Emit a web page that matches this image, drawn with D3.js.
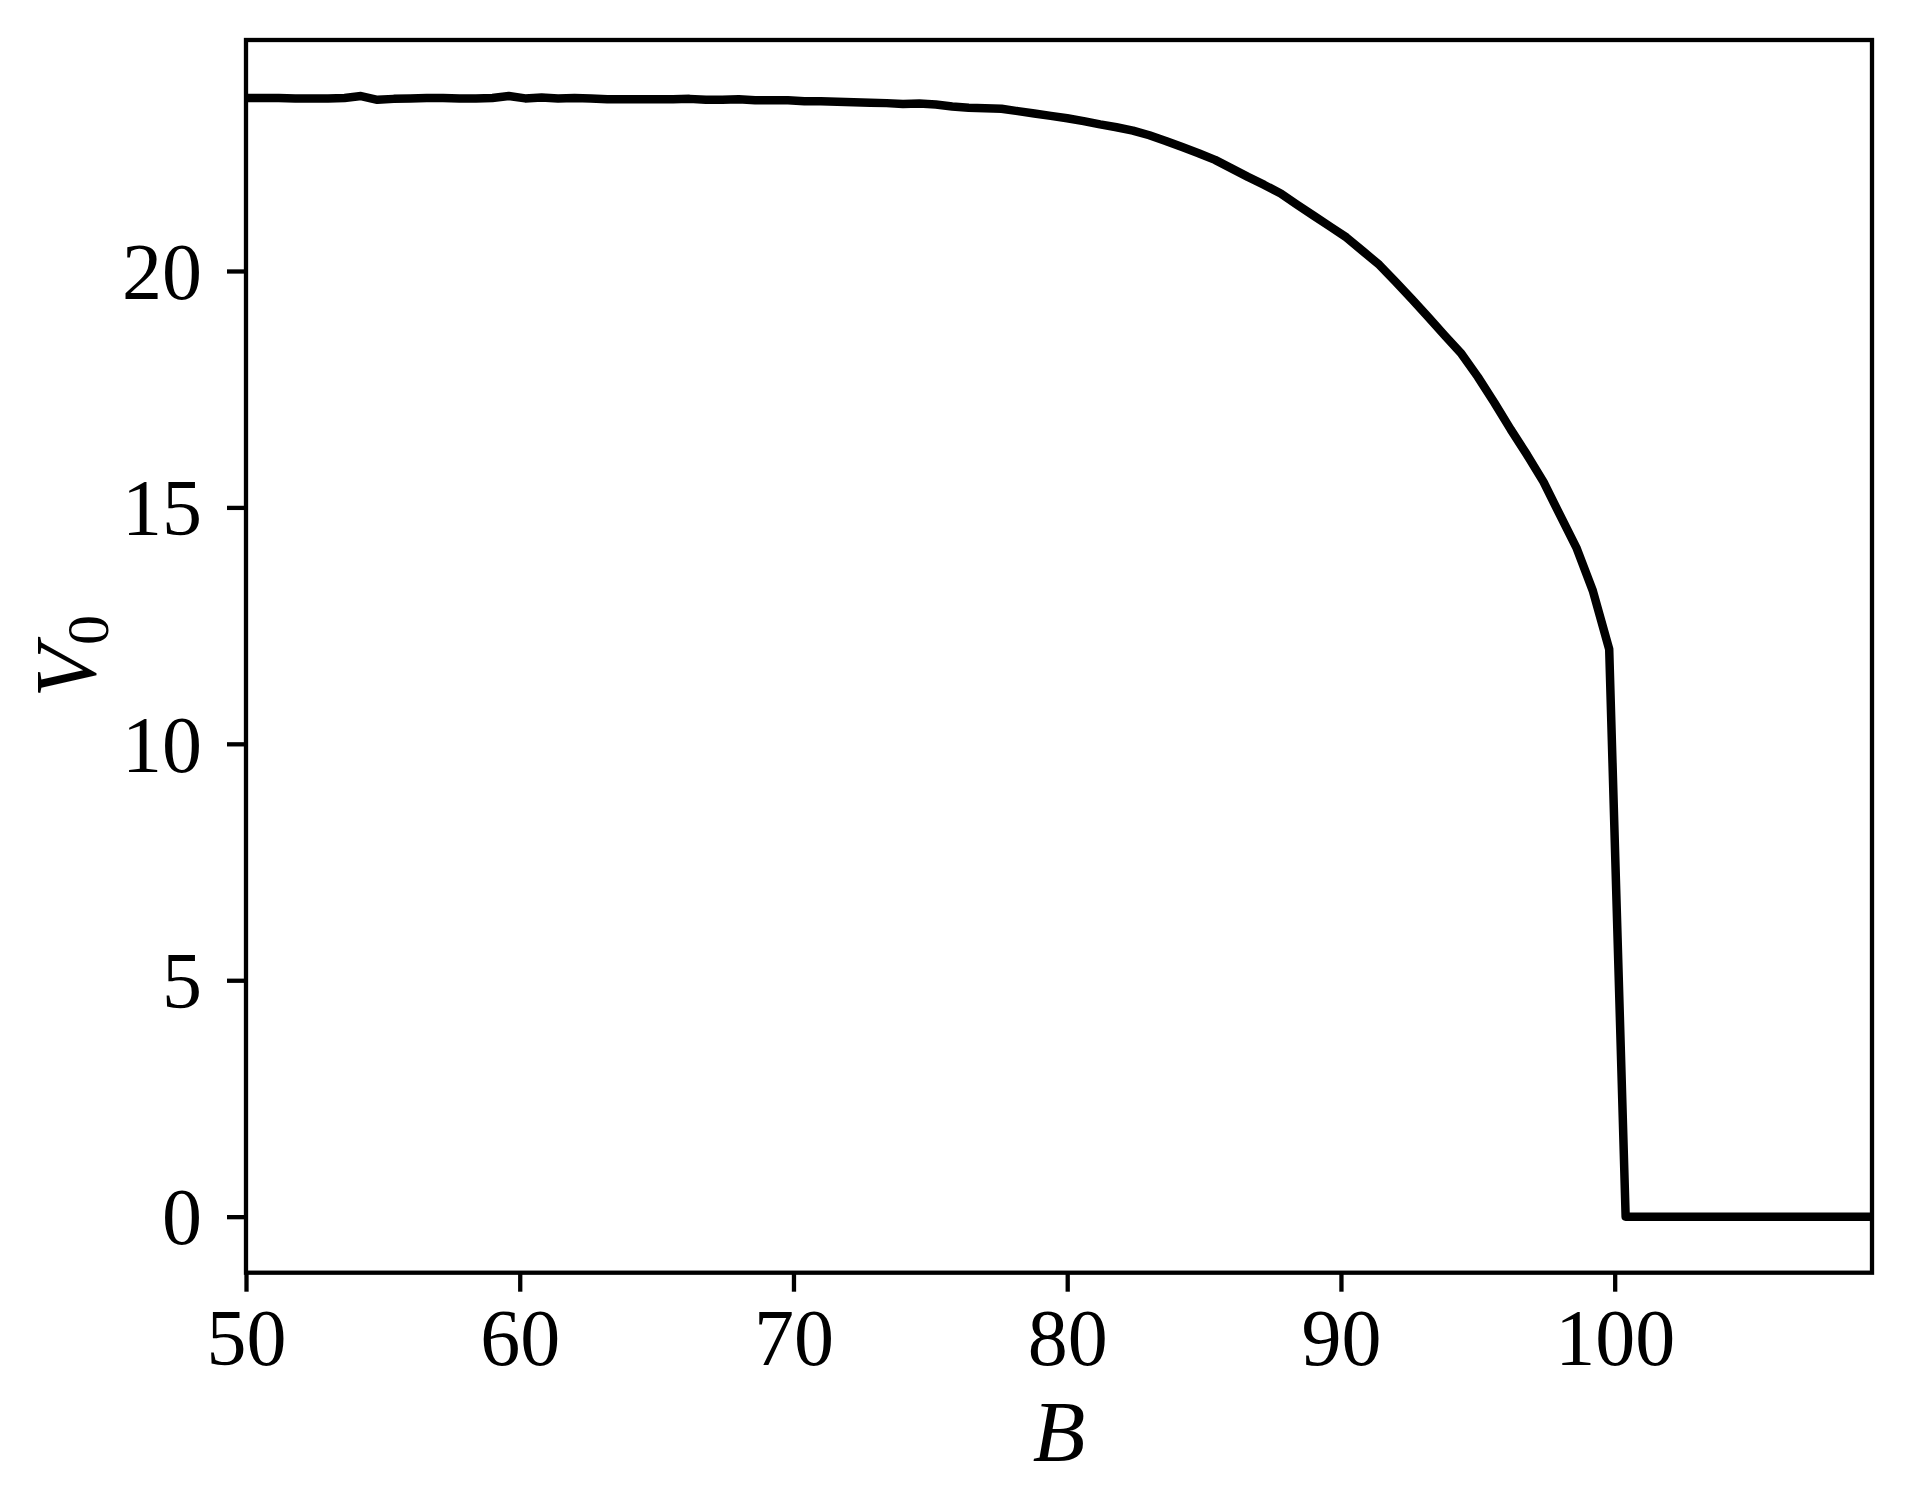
<!DOCTYPE html>
<style>
body { margin: 0; background: #fff; }
.tick text { font-family: "Liberation Serif", "DejaVu Serif", serif; font-size: 80px; fill: #000; }
.axis .domain { display: none; }
.label { font-family: "Liberation Serif", "DejaVu Serif", serif; font-style: italic; fill: #000; }
</style>
<svg width="1911" height="1512"></svg>
<script src="https://d3js.org/d3.v7.min.js"></script>
<script>
var bValues = [50, 50.6, 51.2, 51.8, 52.4, 53, 53.6, 54.2, 54.8, 55.4,
  56, 56.6, 57.2, 57.8, 58.4, 59, 59.6, 60.2, 60.8, 61.4,
  62, 62.6, 63.2, 63.8, 64.4, 65, 65.6, 66.2, 66.8, 67.4,
  68, 68.6, 69.2, 69.8, 70.4, 71, 71.6, 72.2, 72.8, 73.4,
  74, 74.6, 75.2, 75.8, 76.4, 77, 77.6, 78.2, 78.8, 79.4,
  80, 80.6, 81.2, 81.8, 82.4, 83, 83.6, 84.2, 84.8, 85.4,
  86, 86.6, 87.2, 87.8, 88.4, 89, 89.6, 90.2, 90.8, 91.4,
  92, 92.6, 93.2, 93.8, 94.4, 95, 95.6, 96.2, 96.8, 97.4,
  98, 98.6, 99.2, 99.8, 100.4, 101, 101.6, 102.2, 102.8, 103.4,
  104, 104.6, 105.2, 105.8, 106.4, 107, 107.6, 108.2, 108.8, 109.4];
var v0Values = [23.66, 23.66, 23.66, 23.65, 23.65, 23.65, 23.66, 23.70, 23.62, 23.64,
  23.65, 23.66, 23.66, 23.65, 23.65, 23.66, 23.70, 23.65, 23.67, 23.65,
  23.66, 23.65, 23.63, 23.63, 23.63, 23.63, 23.63, 23.64, 23.62, 23.62,
  23.63, 23.61, 23.61, 23.61, 23.59, 23.59, 23.58, 23.57, 23.56, 23.55,
  23.53, 23.54, 23.52, 23.48, 23.45, 23.44, 23.43, 23.38, 23.33, 23.28,
  23.23, 23.17, 23.10, 23.04, 22.97, 22.87, 22.75, 22.62, 22.49, 22.35,
  22.17, 21.99, 21.82, 21.64, 21.40, 21.17, 20.94, 20.71, 20.42, 20.13,
  19.77, 19.40, 19.02, 18.63, 18.25, 17.76, 17.22, 16.65, 16.11, 15.54,
  14.84, 14.15, 13.24, 12.00, 0, 0, 0, 0, 0, 0,
  0, 0, 0, 0, 0, 0, 0, 0, 0, 0];
var xTicks = [50, 60, 70, 80, 90, 100];
var yTicks = [0, 5, 10, 15, 20];

var svg = d3.select("svg"),
    margin = {top: 40, right: 39, bottom: 239.3, left: 246},
    width = +svg.attr("width") - margin.left - margin.right,
    height = +svg.attr("height") - margin.top - margin.bottom,
    g = svg.append("g").attr("transform", "translate(" + margin.left + "," + margin.top + ")");

var data = bValues.map(function(b, i) { return {b: b, v: v0Values[i]}; });

var x = d3.scaleLinear()
    .domain(d3.extent(bValues))
    .range([0, width]);

var yExt = d3.extent(v0Values), pad = (yExt[1] - yExt[0]) * 0.05;
var y = d3.scaleLinear()
    .domain([yExt[0] - pad, yExt[1] + pad])
    .range([height, 0]);

var line = d3.line()
    .x(function(d) { return x(d.b); })
    .y(function(d) { return y(d.v); });

g.append("path")
    .attr("fill", "none")
    .attr("stroke", "#000")
    .attr("stroke-width", 8.5)
    .attr("stroke-linejoin", "round")
    .attr("d", line(data));

var xAxis = g.append("g")
    .attr("class", "axis")
    .attr("transform", "translate(0," + height + ")")
    .call(d3.axisBottom(x).tickValues(xTicks).tickSize(19).tickPadding(19).tickFormat(d3.format("d")));
xAxis.selectAll(".tick line").attr("stroke", "#000").attr("stroke-width", 4.3);
xAxis.selectAll(".tick text").attr("dy", null).attr("y", 92);

var yAxis = g.append("g")
    .attr("class", "axis")
    .call(d3.axisLeft(y).tickValues(yTicks).tickSize(19).tickPadding(25).tickFormat(d3.format("d")));
yAxis.selectAll(".tick line").attr("stroke", "#000").attr("stroke-width", 4.3);
yAxis.selectAll(".tick text").attr("dy", "0.34em");

// frame
g.append("rect")
    .attr("width", width)
    .attr("height", height)
    .attr("fill", "none")
    .attr("stroke", "#000")
    .attr("stroke-width", 4.3);

g.append("text")
    .attr("class", "label")
    .attr("x", width / 2)
    .attr("y", height + 188)
    .attr("text-anchor", "middle")
    .attr("font-size", 86)
    .text("B");

var yl = svg.append("text")
    .attr("class", "label")
    .attr("transform", "translate(95," + (margin.top + height / 2) + ") rotate(-90)")
    .attr("text-anchor", "middle")
    .attr("font-size", 86);
yl.append("tspan").text("V");
yl.append("tspan")
    .attr("font-style", "normal")
    .attr("font-size", 60)
    .attr("dy", "0.22em")
    .text("0");
</script>
